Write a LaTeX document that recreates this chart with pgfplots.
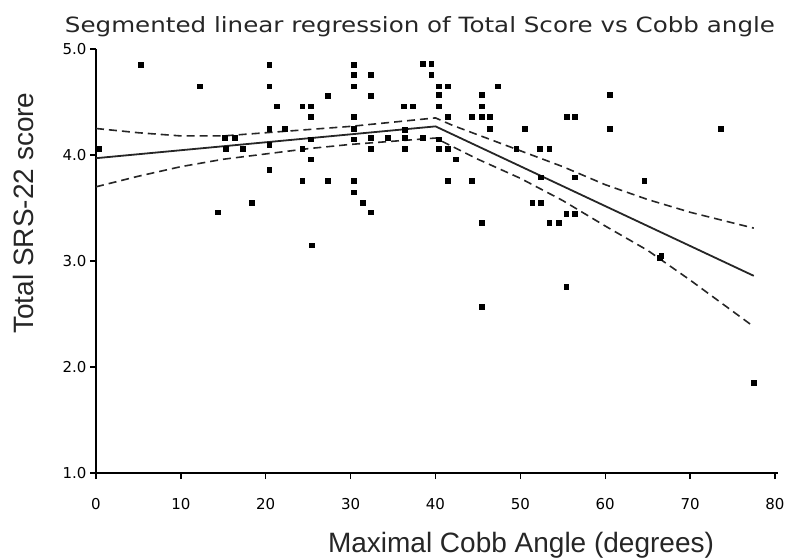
\documentclass[border=0pt]{standalone}
\usepackage{fontspec}
\setmainfont{Liberation Sans}
\newfontfamily\titlefont{DejaVu Sans}
\usepackage{pgfplots}
\pgfplotsset{compat=1.18}
\usepackage{pgfplotstable}

% scatter points: Cobb angle vs total SRS-22 score
\pgfplotstableread{
x y
0.3 4.06
5.3 4.85
12.2 4.65
14.3 3.46
15.2 4.16
16.3 4.16
15.3 4.06
17.3 4.06
18.3 3.55
20.4 4.85
20.4 4.65
20.4 4.25
20.4 4.10
20.4 3.86
21.3 4.46
22.2 4.25
24.3 4.46
25.3 4.46
25.3 4.36
24.3 4.06
25.3 4.15
25.3 3.96
24.3 3.76
27.3 3.76
30.4 3.76
25.4 3.15
27.3 4.56
30.4 4.85
30.4 4.76
30.4 4.65
30.4 4.36
30.4 4.25
30.4 4.15
30.4 3.65
31.4 3.55
32.4 4.76
32.4 4.56
32.4 4.16
32.4 4.06
32.4 3.46
34.4 4.16
36.4 4.16
36.4 4.06
36.4 4.24
36.3 4.46
37.3 4.46
38.5 4.16
38.5 4.86
39.5 4.86
39.5 4.76
40.4 4.65
41.4 4.65
40.4 4.57
40.4 4.46
40.4 4.15
40.4 4.06
41.4 4.06
41.4 4.36
42.4 3.96
41.4 3.76
44.3 3.76
44.3 4.36
45.4 4.36
46.4 4.36
45.4 4.57
45.4 4.46
46.4 4.25
47.3 4.65
45.4 3.36
45.4 2.57
49.5 4.06
50.5 4.25
52.3 4.06
53.4 4.06
52.4 3.79
51.4 3.55
52.4 3.55
53.4 3.36
54.5 3.36
55.4 3.45
56.4 3.45
55.5 4.36
56.4 4.36
56.4 3.79
55.4 2.76
60.5 4.57
60.5 4.25
64.6 3.76
66.4 3.03
66.6 3.05
73.6 4.25
77.5 1.85
}\scatterdata

% fitted segmented line and its confidence band
\pgfplotstableread{
x y
0 3.97
40 4.27
77.5 2.86
}\fitline

\pgfplotstableread{
x y
0 4.25
5 4.21
10 4.18
15 4.18
20 4.21
25 4.24
30 4.27
35 4.31
40 4.35
42 4.28
45 4.19
50 4.04
55 3.89
60 3.72
65 3.58
70 3.46
77.5 3.31
}\upperband

\pgfplotstableread{
x y
0 3.70
5 3.80
10 3.89
15 3.96
20 4.01
25 4.06
30 4.10
35 4.13
40 4.16
42 4.08
45 3.96
50 3.78
55 3.57
60 3.33
65 3.10
70 2.82
77.5 2.38
}\lowerband

\begin{document}
\begin{tikzpicture}
\useasboundingbox (0,0) rectangle (787pt,558pt);
\begin{axis}[
  at={(96pt,85pt)}, anchor=south west,
  scale only axis,
  width=679pt, height=424pt,
  xmin=0, xmax=80,
  ymin=1, ymax=5,
  axis x line=bottom,
  axis y line=left,
  axis line style={-, line width=2.4pt, black},
  x axis line style={shorten >=-3pt},
  tick align=outside,
  major tick length=6pt,
  tick style={line width=1.4pt, black},
  xtick={0,10,...,80},
  ytick={1,2,3,4,5},
  /pgf/number format/assume math mode=true,
  yticklabel style={/pgf/number format/fixed, /pgf/number format/fixed zerofill,
    /pgf/number format/precision=1},
  ticklabel style={font=\titlefont\fontsize{15}{15}\selectfont, text=black},
  xticklabel style={yshift=-16pt},
  clip=false,
]
\addplot[only marks, mark=square*, mark size=2.4pt, black] table {\scatterdata};
\addplot[line width=1.8pt, black!85] table {\fitline};
\addplot[line width=1.6pt, black!85, dash pattern=on 8pt off 5pt] table {\upperband};
\addplot[line width=1.6pt, black!85, dash pattern=on 8pt off 5pt] table {\lowerband};
\end{axis}
\node[anchor=base, font=\titlefont\fontsize{21}{21}\selectfont, text=black!85]
  at (420pt,525pt) {\scalebox{1.17}[1]{Segmented linear regression of Total Score vs Cobb angle}};
\node[anchor=base, font=\fontsize{28}{28}\selectfont, text=black!85]
  at (521pt,6pt) {Maximal Cobb Angle (degrees)};
\node[anchor=base, rotate=90, font=\fontsize{28}{28}\selectfont, text=black!85]
  at (33pt,345pt) {Total SRS-22 score};
\end{tikzpicture}
\end{document}
